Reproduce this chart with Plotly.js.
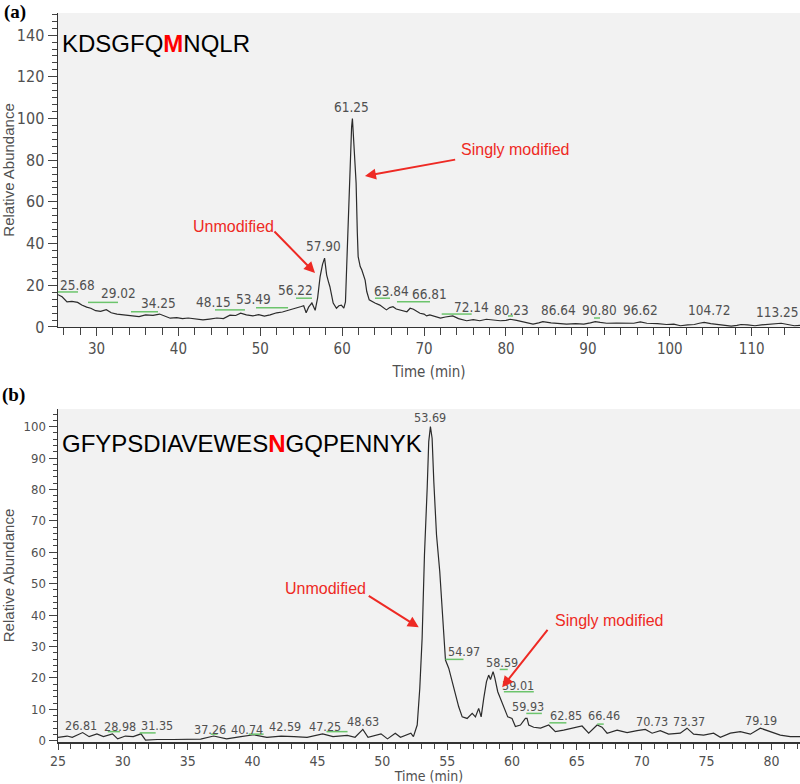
<!DOCTYPE html>
<html>
<head>
<meta charset="utf-8">
<script src="https://cdn.plot.ly/plotly-3.0.1.min.js"></script>
<style>html,body{margin:0;padding:0;background:#fff;}#chart{width:800px;height:784px;}</style>
</head>
<body>
<div id="chart"></div>
<script>
// ---------- Panel (a): KDSGFQMNQLR ----------
const timeA = [25.3,25.8,26.4,27.0,27.7,28.2,28.8,29.3,29.9,30.5,31.2,31.8,32.5,33.2,33.8,34.5,35.2,36.0,36.9,37.7,38.3,39.0,39.8,40.5,41.2,42.0,43.0,43.8,44.7,45.5,46.3,47.0,47.6,48.3,49.1,49.8,50.5,51.2,52.0,52.7,53.3,53.9,54.5,55.0,55.3,55.6,55.9,56.3,56.7,57.0,57.3,57.6,57.85,58.1,58.3,58.5,58.9,59.3,59.6,59.9,60.2,60.4,60.55,60.75,61.0,61.15,61.25,61.4,61.55,61.7,61.85,61.95,62.2,62.4,62.8,63.0,63.3,63.7,64.0,64.6,65.0,65.4,65.8,66.2,66.6,67.0,67.5,67.9,68.3,68.7,69.1,69.5,70.0,70.3,70.7,71.3,72.0,72.6,73.5,74.2,75.2,76.0,76.8,77.6,78.5,79.3,80.0,80.5,81.3,82.1,82.8,83.3,84.0,84.5,85.5,86.5,87.4,88.5,89.5,90.3,90.9,91.5,92.3,93.5,94.5,95.6,96.4,97.2,98.5,99.6,100.5,101.3,102.2,103.0,103.6,104.2,105.0,105.8,106.6,107.5,108.2,108.7,109.5,110.4,111.2,112.0,112.8,113.6,114.4,115.2,115.9];
const abundA = [15.5,14.5,12.0,12.3,11.8,10.5,9.5,9.0,7.8,7.5,8.3,6.8,6.2,5.8,5.5,5.4,5.0,5.8,5.6,6.2,5.3,4.2,4.5,4.0,4.3,3.8,3.4,3.8,4.3,4.0,5.7,5.5,6.6,5.8,5.3,5.9,5.2,5.8,6.8,7.2,7.8,8.5,9.0,9.8,10.2,6.8,9.5,11.5,8.0,14,24,30,33,25,22,19.3,11.5,9.0,10.2,10.5,9.0,12,29,53,80,96,100,90,80,69,45,33.7,29,27.3,22.5,17,13,12,11.5,10.5,9.5,8.2,9.3,9.7,8.6,8.2,8.0,7.3,9.0,8.5,7.5,6.6,6.2,5.3,5.8,5.0,4.3,4.8,5.3,4.0,3.0,3.5,3.0,3.7,3.2,3.0,3.2,3.7,3.2,2.6,2.0,1.4,2.0,2.6,2.0,1.5,1.4,1.6,1.4,2.0,2.6,2.2,1.8,1.9,1.8,1.8,2.4,1.8,1.6,1.2,1.4,0.6,1.0,1.2,1.8,2.2,1.6,1.2,1.0,0.4,0.8,1.2,1.0,0.6,1.0,1.2,1.4,1.8,1.2,0.6,0.8];
const peakTextA = ["25.68","29.02","34.25","48.15","53.49","56.22","57.90","61.25","63.84","66.81","72.14","80.23","86.64","90.80","96.62","104.72","113.25"];
const peakLabelXA = [27.62,32.63,37.63,44.23,49.23,54.24,57.66,61.16,65.96,70.72,75.81,80.73,86.47,91.36,96.37,104.79,113.1];
const peakLabelYA = [20.1,16.2,11.6,11.8,13.2,17.7,39.0,105.4,17.4,15.8,9.7,8.3,8.3,8.3,8.3,8.3,7.3];
const greenX0A = [25.3,28.96,34.21,44.47,49.48,54.36,64.0,66.69,72.15,80.25,90.75];
const greenX1A = [27.74,32.63,37.51,48.13,53.39,56.31,65.84,70.72,75.81,80.86,91.48];
const greenYA  = [16.8,11.8,7.3,8.2,9.2,13.8,13.8,12.1,6.2,5.3,4.3];

// ---------- Panel (b): GFYPSDIAVEWESNGQPENNYK ----------
const timeB = [25.0,25.7,26.1,26.9,27.4,28.0,28.5,29.2,29.6,30.2,30.8,31.4,31.75,32.65,33.9,34.9,36.0,37.0,38.0,39.1,40.1,41.1,42.2,43.2,44.2,45.4,46.2,47.3,47.9,48.5,48.9,49.9,50.4,51.0,51.4,52.2,52.4,52.69,52.89,53.07,53.25,53.46,53.58,53.71,53.84,53.97,54.18,54.43,54.69,54.87,55.12,55.39,55.64,55.89,56.16,56.54,56.93,57.18,57.43,57.62,57.82,58.03,58.2,58.34,58.54,58.67,58.9,59.1,59.36,59.67,60.0,60.26,60.65,61.03,61.16,61.29,61.67,62.2,62.83,63.34,63.98,64.63,65.4,65.91,66.56,66.94,67.33,68.1,68.87,69.64,70.28,70.8,71.43,72.07,72.97,73.49,74.0,74.77,75.54,76.06,76.83,77.6,78.37,79.14,79.91,80.68,81.45,82.2];
const abundB = [1.1,1.5,1.1,2.6,1.3,2.2,1.3,2.2,0.6,1.5,1.3,2.2,0.2,0.4,0.4,0.5,0.5,1.5,0.6,1.3,1.9,1.1,1.5,1.3,1.1,2.2,1.3,1.7,1.1,3.6,1.1,2.2,0.6,2.4,1.1,2.4,1.3,5.0,16.7,32.6,59.1,80.4,95.2,100,96.3,82.5,65.5,53.8,39.0,25.7,23.1,18.8,14.6,10.8,7.6,7.1,8.7,7.6,10.3,7.6,13.5,18.8,20.9,19.5,22.0,20.1,15.6,13.5,10.3,7.6,7.1,4.5,5.0,7.1,7.1,5.0,4.3,4.0,5.0,2.9,3.4,4.0,4.7,2.4,5.0,4.3,2.4,3.4,2.6,3.2,3.6,2.4,3.2,2.1,2.4,4.0,2.1,1.8,2.4,1.1,2.4,2.9,2.1,4.0,2.9,1.8,1.3,1.3];
const peakTextB = ["26.81","28.98","31.35","37.26","40.74","42.59","47.25","48.63","53.69","54.97","58.59","59.01","59.93","62.85","66.46","70.73","73.37","79.19"];
const peakLabelXB = [26.75,29.75,32.63,36.69,39.6,42.47,45.6,48.55,53.67,56.26,59.24,60.45,61.26,64.14,67.12,70.82,73.61,79.16];
const peakLabelYB = [5.0,4.5,4.7,3.7,3.7,4.5,4.5,6.1,102.9,28.3,24.8,17.7,10.8,7.9,7.9,6.1,6.1,6.6];
const greenX0B = [28.84,31.3,36.77,39.7,45.7,54.87,59.05,59.37,61.1,62.88,66.57];
const greenX1B = [29.77,32.53,37.3,40.85,47.32,56.26,59.67,61.68,62.3,64.19,67.07];
const greenYB  = [2.9,2.5,2.1,2.1,2.9,25.9,22.7,15.6,8.7,5.7,5.3];

const NARROW = '"Liberation Sans Narrow", "DejaVu Sans Condensed", "Liberation Sans", Arial, sans-serif';
const ARIAL = '"Liberation Sans", Arial, sans-serif';
const GREY = '#505050';
const RED = '#ee2a24';

function segs(x0, x1, y) {
  const xs = [], ys = [];
  for (let i = 0; i < x0.length; i++) { xs.push(x0[i], x1[i], null); ys.push(y[i], y[i], null); }
  return {x: xs, y: ys};
}
const gA = segs(greenX0A, greenX1A, greenYA);
const gB = segs(greenX0B, greenX1B, greenYB);

const traces = [
  {x: timeA, y: abundA, xaxis: 'x', yaxis: 'y', type: 'scatter', mode: 'lines',
   line: {color: '#2b2b2b', width: 1.2}, hoverinfo: 'x+y', showlegend: false},
  {x: gA.x, y: gA.y, xaxis: 'x', yaxis: 'y', type: 'scatter', mode: 'lines',
   line: {color: '#6cc46c', width: 1.5}, hoverinfo: 'skip', showlegend: false},
  {x: timeB, y: abundB, xaxis: 'x2', yaxis: 'y2', type: 'scatter', mode: 'lines',
   line: {color: '#2b2b2b', width: 1.2}, hoverinfo: 'x+y', showlegend: false},
  {x: gB.x, y: gB.y, xaxis: 'x2', yaxis: 'y2', type: 'scatter', mode: 'lines',
   line: {color: '#6cc46c', width: 1.5}, hoverinfo: 'skip', showlegend: false}
];

const annotations = [];
peakTextA.forEach((t, i) => annotations.push({xref: 'x', yref: 'y', x: peakLabelXA[i], y: peakLabelYA[i], text: t,
  showarrow: false, xanchor: 'center', yanchor: 'middle', font: {family: NARROW, size: 13.5, color: GREY}}));
peakTextB.forEach((t, i) => annotations.push({xref: 'x2', yref: 'y2', x: peakLabelXB[i], y: peakLabelYB[i], text: t,
  showarrow: false, xanchor: 'center', yanchor: 'middle', font: {family: NARROW, size: 12.5, color: GREY}}));

// peptide sequences
annotations.push({xref: 'x domain', yref: 'y domain', x: 0.003, y: 0.9035, xanchor: 'left', yanchor: 'middle', showarrow: false,
  text: 'KDSGFQ<b><span style="color:#ff0000">M</span></b>NQLR', font: {family: ARIAL, size: 24, color: '#000'}});
annotations.push({xref: 'x2 domain', yref: 'y2 domain', x: 0.003, y: 0.897, xanchor: 'left', yanchor: 'middle', showarrow: false,
  text: 'GFYPSDIAVEWES<b><span style="color:#ff0000">N</span></b>GQPENNYK', font: {family: ARIAL, size: 24, color: '#000'}});

// red labels
annotations.push({xref: 'x', yref: 'y', x: 46.73, y: 48.1, text: 'Unmodified', showarrow: false, font: {family: ARIAL, size: 16, color: RED}});
annotations.push({xref: 'x', yref: 'y', x: 81.22, y: 84.9, text: 'Singly modified', showarrow: false, font: {family: ARIAL, size: 16, color: RED}});
annotations.push({xref: 'x2', yref: 'y2', x: 45.64, y: 48.5, text: 'Unmodified', showarrow: false, font: {family: ARIAL, size: 16, color: RED}});
annotations.push({xref: 'x2', yref: 'y2', x: 67.52, y: 38.4, text: 'Singly modified', showarrow: false, font: {family: ARIAL, size: 16, color: RED}});
// red arrows
const arrow = (xr, yr, x, y, ax, ay) => ({xref: xr, yref: yr, axref: xr, ayref: yr, x: x, y: y, ax: ax, ay: ay, text: '',
  showarrow: true, arrowhead: 2, arrowsize: 1.1, arrowwidth: 2, arrowcolor: RED, standoff: 0, startstandoff: 0});
annotations.push(arrow('x', 'y', 56.68, 25.9, 51.55, 46.5));
annotations.push(arrow('x', 'y', 62.78, 72.4, 73.98, 80.4));
annotations.push(arrow('x2', 'y2', 52.81, 36.1, 48.84, 46.4));
annotations.push(arrow('x2', 'y2', 59.24, 17.0, 62.83, 35.8));

// panel letters
annotations.push({xref: 'paper', yref: 'paper', x: -56/742, y: 1.0007, xanchor: 'left', yanchor: 'middle', showarrow: false,
  text: '<b>(a)</b>', font: {family: '"Liberation Serif", "Times New Roman", serif', size: 19, color: '#000'}});
annotations.push({xref: 'paper', yref: 'paper', x: -58/742, y: 0.476, xanchor: 'left', yanchor: 'middle', showarrow: false,
  text: '<b>(b)</b>', font: {family: '"Liberation Serif", "Times New Roman", serif', size: 19, color: '#000'}});

const axisCommon = {showgrid: false, zeroline: false, showline: true, linecolor: '#333', linewidth: 1.5,
  ticks: 'outside', tickcolor: '#444', automargin: false, fixedrange: true};

const layout = {
  width: 800, height: 784,
  margin: {l: 58, r: 0, t: 13, b: 42},
  paper_bgcolor: '#ffffff', plot_bgcolor: '#f2f2f2',
  showlegend: false,
  xaxis: Object.assign({}, axisCommon, {domain: [0, 1], anchor: 'y', range: [25.3, 115.9], tick0: 0, dtick: 10, ticklen: 8,
    minor: {dtick: 2, tick0: 0, ticks: 'outside', ticklen: 7, tickcolor: '#444', showgrid: false},
    tickfont: {family: NARROW, size: 15, color: GREY},
    title: {text: 'Time (min)', font: {family: NARROW, size: 15, color: GREY}, standoff: 9}}),
  yaxis: Object.assign({}, axisCommon, {domain: [0.5693, 1], anchor: 'x', range: [0, 150.6], tick0: 0, dtick: 20, ticklen: 9,
    minor: {dtick: 20/6, tick0: 0, ticks: 'outside', ticklen: 5, tickcolor: '#444', showgrid: false},
    tickfont: {family: NARROW, size: 16, color: GREY},
    title: {text: 'Relative Abundance', font: {family: ARIAL, size: 15, color: GREY}, standoff: 8}}),
  xaxis2: Object.assign({}, axisCommon, {domain: [0, 1], anchor: 'y2', range: [25, 82.2], tick0: 0, dtick: 5, ticklen: 6,
    minor: {dtick: 1, tick0: 0, ticks: 'outside', ticklen: 5, tickcolor: '#444', showgrid: false},
    tickfont: {family: NARROW, size: 14, color: GREY},
    title: {text: 'Time (min)', font: {family: NARROW, size: 14, color: GREY}, standoff: 1}}),
  yaxis2: Object.assign({}, axisCommon, {domain: [0, 0.4568], anchor: 'x2', range: [-0.4, 105.6], tick0: 0, dtick: 10, ticklen: 8,
    minor: {dtick: 2, tick0: 0, ticks: 'outside', ticklen: 4, tickcolor: '#444', showgrid: false},
    tickfont: {family: NARROW, size: 13, color: GREY},
    title: {text: 'Relative Abundance', font: {family: ARIAL, size: 15, color: GREY}, standoff: 10}}),
  annotations: annotations
};

Plotly.newPlot('chart', traces, layout, {staticPlot: true, displayModeBar: false});
</script>
</body>
</html>
